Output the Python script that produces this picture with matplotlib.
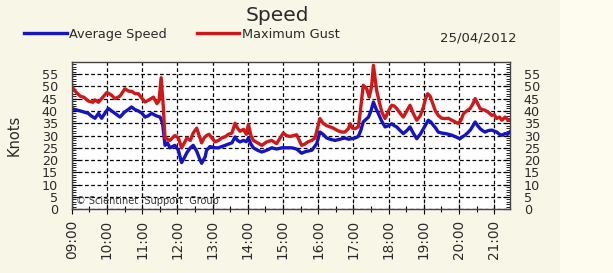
import matplotlib
matplotlib.use('Agg')
import matplotlib.pyplot as plt
from matplotlib.patches import Rectangle
from matplotlib.ticker import MultipleLocator

# hours after 09:00, knots
gust_t = [0.00, 0.10, 0.24, 0.35, 0.47, 0.60, 0.66, 0.76, 0.85, 1.00, 1.12, 1.23, 1.37, 1.51,
          1.62, 1.70, 1.80, 1.89, 2.08, 2.20, 2.32, 2.42, 2.48, 2.54, 2.60, 2.65, 2.79, 2.93,
          3.03, 3.12, 3.20, 3.27, 3.37, 3.45, 3.55, 3.62, 3.69, 3.76, 3.83, 3.90, 4.07, 4.17,
          4.26, 4.36, 4.45, 4.55, 4.64, 4.71, 4.78, 4.88, 4.96, 5.02, 5.09, 5.16, 5.28, 5.40,
          5.54, 5.68, 5.82, 5.92, 6.01, 6.10, 6.20, 6.39, 6.53, 6.62, 6.72, 6.82, 6.91, 7.05,
          7.14, 7.24, 7.34, 7.43, 7.55, 7.67, 7.76, 7.86, 7.91, 7.97, 8.05, 8.14, 8.20, 8.28,
          8.38, 8.45, 8.52, 8.57, 8.62, 8.66, 8.73, 8.81, 8.90, 9.00, 9.09, 9.16, 9.23, 9.33,
          9.42, 9.52, 9.61, 9.70, 9.80, 9.90, 9.99, 10.05, 10.11, 10.18, 10.24, 10.33, 10.41,
          10.51, 10.61, 10.70, 10.80, 10.90, 10.98, 11.05, 11.13, 11.22, 11.32, 11.40, 11.46,
          11.53, 11.60, 11.67, 11.74, 11.83, 11.93, 12.00, 12.07, 12.15, 12.22, 12.31, 12.38, 12.44]
gust = [50, 48, 46, 45.5, 44, 43.5, 44.5, 43.5, 45, 47.5, 46.5, 45, 46, 49,
        48, 48, 47, 47, 43.6, 44.5, 45.6, 43, 44, 53.5, 42, 29, 28, 30,
        29, 25, 27, 29, 28, 31, 33, 30, 27, 29, 30, 30.5, 27.4, 28,
        29, 29.5, 30.5, 31, 35, 33, 31.7, 32.5, 30.5, 34.5, 30, 28, 27, 26,
        27.4, 28, 26.7, 29, 31, 30, 29.6, 30.3, 26, 26.5, 27.5, 28, 29, 36.9,
        35, 34, 33.5, 33, 32, 31.4, 31.4, 32.8, 34.8, 33, 32.8, 33.5, 40, 50.4,
        49, 45.6, 50, 58.5, 53, 48.4, 44, 39.5, 36.9, 40, 42.3, 42, 41, 39,
        37.5, 40, 42.3, 39, 36.2, 38, 41.6, 45, 47, 46, 43.6, 40, 38.2,
        37, 36.9, 37, 36.2, 35.5, 34.9, 36, 38.9, 40, 41, 43, 45,
        43, 41, 40.5, 40.3, 39.5, 38.2, 38.5, 36.9, 37.5, 36.2, 37.5, 36.5, 36.2]

avg_t = [0.00, 0.10, 0.24, 0.35, 0.47, 0.55, 0.66, 0.76, 0.85, 0.94, 1.04, 1.13, 1.23, 1.37,
         1.50, 1.60, 1.70, 1.80, 1.89, 2.00, 2.08, 2.17, 2.27, 2.40, 2.51, 2.58, 2.65, 2.72,
         2.79, 2.93, 3.03, 3.12, 3.20, 3.27, 3.37, 3.45, 3.55, 3.62, 3.69, 3.79, 3.83, 3.93,
         4.07, 4.17, 4.26, 4.36, 4.45, 4.55, 4.64, 4.71, 4.78, 4.88, 4.96, 5.02, 5.09, 5.16,
         5.28, 5.40, 5.54, 5.68, 5.82, 5.97, 6.10, 6.25, 6.39, 6.53, 6.65, 6.82, 6.96, 7.05,
         7.14, 7.24, 7.34, 7.48, 7.62, 7.76, 7.86, 7.95, 8.05, 8.14, 8.21, 8.28, 8.43, 8.50,
         8.57, 8.64, 8.71, 8.80, 8.90, 9.00, 9.09, 9.16, 9.23, 9.33, 9.42, 9.52, 9.61, 9.70,
         9.80, 9.90, 9.99, 10.06, 10.13, 10.20, 10.27, 10.34, 10.41, 10.51, 10.61, 10.70,
         10.80, 10.90, 11.03, 11.10, 11.17, 11.24, 11.32, 11.40, 11.46, 11.53, 11.60, 11.67,
         11.74, 11.83, 11.93, 12.00, 12.07, 12.15, 12.22, 12.31, 12.38, 12.44]
avg = [41, 40.5, 40, 39.5, 39, 38, 37, 39, 37, 39, 41, 40, 39, 37.5,
       39.5, 40.5, 41.6, 40.5, 40, 39, 37.5, 38, 39, 38, 37.5, 35, 26, 27,
       25, 26, 24, 19, 21, 23, 25, 26, 23.6, 21, 18.7, 21.3, 24, 25.5,
       25, 25, 25.5, 26, 26.5, 27, 29.4, 28, 27.4, 28, 27.5, 29, 26.5, 25,
       24, 23.3, 24, 25, 24.5, 25, 25, 25, 24.5, 22.8, 23.5, 24, 26.7, 31.4,
       30.5, 29, 28.5, 28, 28.5, 29, 28.5, 28.7, 29, 29.6, 32, 35.5, 37.5, 40,
       43.6, 41, 38.9, 36, 33.5, 34, 34.8, 34, 33.5, 32, 30.8, 32, 33.5, 31,
       28.7, 30.5, 32.8, 34.5, 36.2, 35.5, 34.2, 33, 31.4, 31, 30.8, 30.5,
       30.1, 29.5, 28.7, 29.5, 30.1, 31, 32.2, 34, 35.5, 34, 32.8, 32,
       31.4, 32, 32.2, 31.8, 31.4, 30.5, 30.1, 30.8, 30.5, 31.4]

hour_ticks = list(range(0, 13))
hour_labels = ['%02d:00' % (9 + h) for h in hour_ticks]
speed_ticks = list(range(0, 60, 5))

txt = '#2a2a2a'
fig = plt.figure(figsize=(6.13, 2.73), dpi=100)
fig.patch.set_facecolor('#f8f6e6')
fig.patches.append(Rectangle((560 / 613, 0), 1 - 560 / 613, 1, transform=fig.transFigure,
                             facecolor='#fdfcef', edgecolor='none', zorder=-1))

ax = fig.add_axes([0.117, 0.2333, 0.715, 0.5407])
ax.plot(avg_t, avg, color='#1414c4', lw=2.4, label='Average Speed')
ax.plot(gust_t, gust, color='#d01818', lw=2.4, label='Maximum Gust')

ax.set_xlim(0, 12.45)
ax.set_ylim(0, 60)
ax.set_xticks(hour_ticks)
ax.set_xticklabels(hour_labels, rotation=90, fontsize=9.8, color=txt)
ax.xaxis.set_minor_locator(MultipleLocator(0.5))
ax.set_yticks(speed_ticks)
ax.set_yticklabels([str(v) for v in speed_ticks], fontsize=9.2, color=txt)
ax.yaxis.set_minor_locator(MultipleLocator(1))
ax.tick_params(axis='x', which='major', direction='inout', length=7, width=0.8, pad=4)
ax.tick_params(axis='x', which='minor', direction='inout', length=5, width=0.8)
ax.tick_params(axis='y', which='major', direction='in', length=5, width=0.8,
               left=True, right=True, labelleft=True, labelright=True, pad=10)
ax.tick_params(axis='y', which='minor', direction='in', length=3, width=0.6,
               left=True, right=True)
ax.grid(True, which='major', color='black', linestyle=(0, (3, 2)), lw=0.9)
for s in ax.spines.values():
    s.set_color('#444444')
    s.set_linewidth(1.0)

ax.text(0.01, 0.02, '© Scientinet  Support  Group', transform=ax.transAxes,
        fontsize=7, color='#333333', va='bottom', ha='left')

fig.text(277 / 613, 1 - 21 / 273, 'Speed', ha='center', va='baseline', fontsize=14.5, color=txt)
fig.text(14 / 613, 1 - 135 / 273, 'Knots', rotation=90, ha='center', va='center',
         fontsize=10.5, color=txt)

fig.legend(loc='upper left', bbox_to_anchor=(24 / 613, 1 - 28 / 273), ncol=2, frameon=False,
           fontsize=9.3, handlelength=3.3, handletextpad=0.2, columnspacing=2.3,
           borderaxespad=0, borderpad=0, labelcolor=txt)
fig.text(517 / 613, 1 - 38 / 273, '25/04/2012', ha='right', va='center', fontsize=9.5, color=txt)

fig.savefig('out.png', dpi=100, facecolor=fig.get_facecolor())
